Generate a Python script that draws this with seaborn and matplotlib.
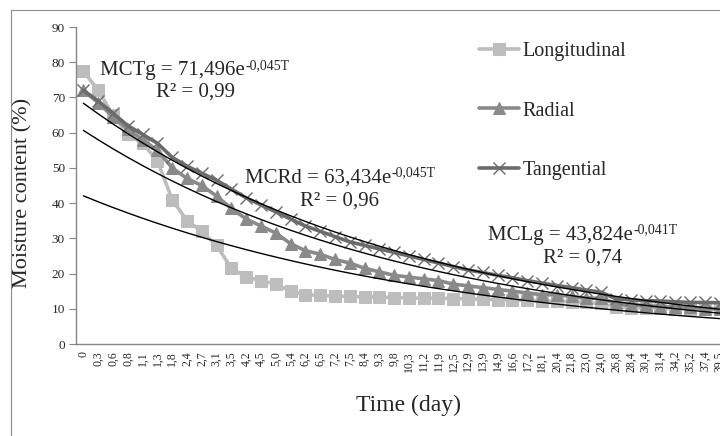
import numpy as np
import pandas as pd
import matplotlib
matplotlib.use('Agg')
import matplotlib.pyplot as plt
import seaborn as sns
from matplotlib.patches import Rectangle

# drying time labels (categorical axis, as in the Excel line chart)
days = ['0', '0,3', '0,6', '0,8', '1,1', '1,3', '1,8', '2,4', '2,7', '3,1', '3,5',
        '4,2', '4,5', '5,0', '5,4', '6,2', '6,5', '7,2', '7,5', '8,4', '9,3', '9,8',
        '10,3', '11,2', '11,9', '12,5', '12,9', '13,9', '14,9', '16,6', '17,2', '18,1',
        '20,4', '21,8', '23,0', '24,0', '26,8', '28,4', '30,4', '31,4', '34,2', '35,2',
        '37,4', '39,5']

longitudinal = [77.5, 72, 65, 59.5, 57, 52, 41, 35, 32, 28, 21.5,
                19, 18, 17, 15, 14, 13.8, 13.6, 13.5, 13.4, 13.3, 13.2,
                13.1, 13, 13, 12.9, 12.8, 12.7, 12.6, 12.5, 12.4, 12.3,
                12.2, 12, 11.8, 11.5, 10.5, 10.3, 10.2, 10.1, 10, 10,
                10, 10]
radial = [72, 68.5, 64.5, 61, 58, 55, 50, 47, 45, 42, 38.5,
          35.5, 33.5, 31.5, 28.5, 26.5, 25.5, 24, 23, 21.5, 20.5, 19.5,
          19, 18.5, 18, 17, 16.5, 16, 15.5, 15, 14.5, 14,
          14, 13.5, 13, 13, 11.5, 11, 11, 10.5, 10.5, 10.5,
          10, 10]
tangential = [72, 69, 65.5, 62, 59.5, 57, 53, 50.5, 48.5, 46.5, 44,
              41.5, 39.5, 37.5, 35.5, 33.5, 32, 30.5, 29, 28, 27, 26,
              25, 24, 23, 22, 21, 20.3, 19.5, 18.8, 18, 17.3,
              16.6, 16, 15.3, 14.7, 12.8, 12.5, 12.3, 12.2, 12, 11.8,
              11.8, 11.7]

# printed exponential trendlines: a * exp(b * T), T = category number
fit_names = ['MCTg', 'MCRd', 'MCLg']
fit_a = [71.496, 63.434, 43.824]
fit_b = [-0.045, -0.045, -0.041]
fit_a_txt = ['71,496', '63,434', '43,824']
fit_b_txt = ['-0,045T', '-0,045T', '-0,041T']
fit_r2 = ['0,99', '0,96', '0,74']

df = pd.DataFrame({'idx': np.arange(len(days)), 'day': days,
                   'Longitudinal': longitudinal, 'Radial': radial,
                   'Tangential': tangential})

sns.set_style('white')
plt.rcParams['font.family'] = ['Liberation Serif', 'DejaVu Serif']

W, H = 720, 436
fig = plt.figure(figsize=(7.2, 4.36), dpi=100)
ax = fig.add_axes([76 / W, 1 - 344 / H, (727 - 76) / W, (344 - 27) / H])

sns.lineplot(data=df, x='idx', y='Longitudinal', ax=ax, color='#bdbdbd',
             linewidth=2.6, marker='s', markersize=8.5, markeredgecolor='#bdbdbd',
             label='Longitudinal')
sns.lineplot(data=df, x='idx', y='Radial', ax=ax, color='#8a8a8a',
             linewidth=2.6, marker='^', markersize=9, markeredgecolor='#8a8a8a',
             label='Radial')
sns.lineplot(data=df, x='idx', y='Tangential', ax=ax, color='#6b6b6b',
             linewidth=2.6, marker='x', markersize=9, markeredgewidth=1.0,
             markeredgecolor='#6b6b6b', label='Tangential')

T = df['idx'] + 1
for a, b in zip(fit_a, fit_b):
    sns.lineplot(x=df['idx'], y=a * np.exp(b * T), ax=ax, color='black',
                 linewidth=1.0, legend=False)

ax.set_xlim(-0.5, len(days) - 0.5)
ax.set_ylim(0, 90)
ax.set_yticks(range(0, 91, 10))
ax.set_xticks(df['idx'])
ax.set_xticklabels(days, rotation=90)
ax.tick_params(axis='y', length=5, width=0.8, color='#868686', labelsize=9.5, pad=3, left=True)
ax.tick_params(axis='x', length=0, labelsize=8.5, pad=5)
for s in ['top', 'right']:
    ax.spines[s].set_visible(False)
for s in ['left', 'bottom']:
    ax.spines[s].set_color('#868686')
    ax.spines[s].set_linewidth(1.0)
ax.set_xlabel('')
ax.set_ylabel('')

fig.text(409 / W, 1 - 405 / H, 'Time (day)', fontsize=17, ha='center', va='center')
fig.text(23 / W, 1 - 193 / H, 'Moisture content (%)', fontsize=16, ha='center',
         va='center', rotation=90)

# trendline equations: base text, superscript exponent, R² line below
eq_pos = [(100, 71, 195, 92), (245, 178, 340, 201), (488, 235, 583, 258)]
for name, at, bt, r2, (x1, y1, x2, y2) in zip(fit_names, fit_a_txt, fit_b_txt, fit_r2, eq_pos):
    base = fig.text(x1 / W, 1 - y1 / H, name + ' = ' + at + 'e', fontsize=15,
                    ha='left', va='center')
    ax.annotate(bt, xy=(1, 1), xycoords=base, xytext=(0.5, -3),
                textcoords='offset points', fontsize=10, ha='left', va='center')
    fig.text(x2 / W, 1 - y2 / H, 'R² = ' + r2, fontsize=15, ha='center', va='center')

leg = ax.legend(loc='upper left', bbox_to_anchor=(469 / W, 1 - 32 / H),
                bbox_transform=fig.transFigure, frameon=False, fontsize=14.5,
                handlelength=2.0, handletextpad=0.15, labelspacing=2.0, borderpad=0)

fig.patches.append(Rectangle((11 / W, -0.1), 1.2, 1.1 - 10 / H, transform=fig.transFigure,
                             fill=False, edgecolor='#8c8c8c', linewidth=0.8))

fig.savefig('out.png', dpi=100)
